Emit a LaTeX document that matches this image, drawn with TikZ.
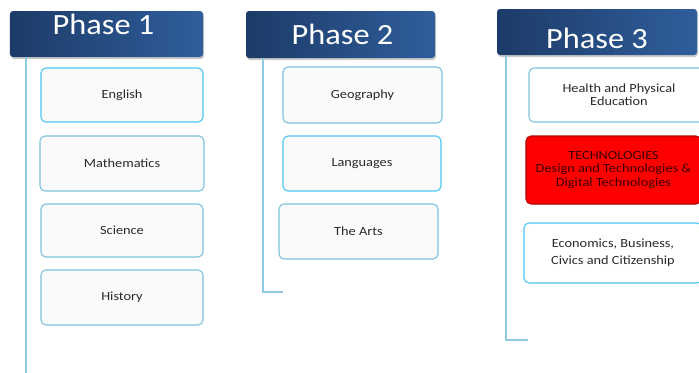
\documentclass[tikz,border=0pt]{standalone}
\usepackage{fontspec}
\setmainfont{Carlito}
\newfontfamily\widefont[FakeStretch=1.15]{Carlito}
\newfontfamily\hdrfont[FakeStretch=1.1]{Carlito}
\usetikzlibrary{shadows}
\definecolor{hdark}{HTML}{1D3B68}
\definecolor{hlight}{HTML}{2F5E9C}
\definecolor{bline}{HTML}{8FCBE3}
\definecolor{bborder}{HTML}{7CC3DD}
\definecolor{bcyan}{HTML}{4CC6F2}
\definecolor{bfill}{HTML}{FAFAFA}
\definecolor{ltext}{HTML}{2A2A2A}
\definecolor{tred}{HTML}{FF0000}
\definecolor{tdark}{HTML}{3A0000}
\tikzset{
  header/.style={rectangle, rounded corners=3bp, left color=hdark, right color=hlight,
    draw=none, inner sep=0pt,
    drop shadow={shadow xshift=1bp, shadow yshift=-2bp, opacity=0.35, fill=black!60}},
  htext/.style={text=white, font=\hdrfont\fontsize{29.5}{29.5}\selectfont, inner sep=0pt},
  subj/.style={rectangle, rounded corners=5bp, draw=bborder, line width=1.1bp, fill=bfill,
    inner sep=0pt, text=ltext, font=\widefont\fontsize{12.5}{15}\selectfont, align=center},
  hot/.style={draw=bcyan},
  redbox/.style={subj, fill=tred, draw=tred!70!black, text=tdark},
  phline/.style={draw=bline, line width=1.1bp},
}
\begin{document}
\begin{tikzpicture}[x=1bp, y=-1bp]
\useasboundingbox (0,0) rectangle (699,372);
\clip (0,0) rectangle (699,372);
% headers
\node[header, minimum width=193bp, minimum height=46bp] (h1) at (106.5,34) {};
\node[header, minimum width=189bp, minimum height=47bp] (h2) at (340.5,34.5) {};
\node[header, minimum width=200bp, minimum height=46bp] (h3) at (597,32) {};
\node[htext] (t1) at (103.5,24.5) {Phase 1};
\node[htext] (t2) at (342.5,34) {Phase 2};
\node[htext] (t3) at (597,38) {Phase 3};
% phase 1 subjects
\node[subj, hot, minimum width=162bp, minimum height=54bp] (eng) at (122,95) {English};
\node[subj, minimum width=164bp, minimum height=55bp] (mat) at (122,163.5) {Mathematics};
\node[subj, minimum width=162bp, minimum height=53bp] (sci) at (122,230.5) {Science};
\node[subj, minimum width=162bp, minimum height=55bp] (his) at (122,297.5) {History};
% phase 2 subjects
\node[subj, minimum width=159bp, minimum height=56bp] (geo) at (362.5,95) {Geography};
\node[subj, hot, minimum width=158bp, minimum height=55bp] (lan) at (362,163.5) {Languages};
\node[subj, minimum width=159bp, minimum height=55bp] (art) at (358.5,231.5) {The Arts};
% phase 3 subjects
\node[subj, fill=white, minimum width=180bp, minimum height=54bp, font=\widefont\fontsize{12.5}{13.3}\selectfont] (hpe) at (619,95) {Health and Physical\\Education};
\node[redbox, minimum width=175bp, minimum height=68bp, font=\widefont\fontsize{12.5}{13.5}\selectfont] (tec) at (613.5,170) {TECHNOLOGIES\\Design and Technologies \&\\Digital Technologies};
\node[subj, hot, fill=white, minimum width=178bp, minimum height=60bp, font=\widefont\fontsize{12.5}{17}\selectfont] (eco) at (613,253) {Economics, Business,\\Civics and Citizenship};
% connector lines
\coordinate (e1) at (26,372);
\coordinate (e2) at (283,292);
\coordinate (e3) at (528,340);
\draw[phline] (h1.south -| 26,0) -- (e1 |- 0,375);
\draw[phline] (h2.south -| 263,0) -- (263,292) -- (e2);
\draw[phline] (h3.south -| 506,0) -- (506,340) -- (e3);
\end{tikzpicture}
\end{document}
